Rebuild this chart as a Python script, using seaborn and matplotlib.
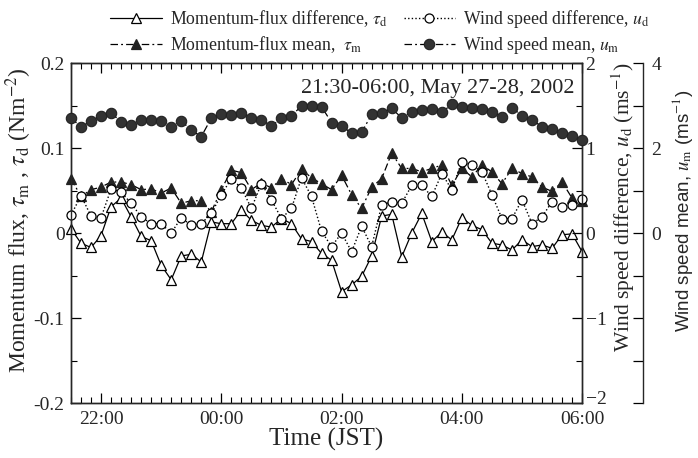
#!/usr/bin/env python3
# -*- coding: utf-8 -*-
"""
Momentum flux and wind speed (difference and mean), 21:30-06:00, May 27-28, 2002.
Saves out.png.
"""
import matplotlib
matplotlib.use('Agg')
import pandas as pd
import matplotlib.pyplot as plt
import matplotlib.dates as mdates
import matplotlib.transforms as mtransforms
from matplotlib.ticker import MultipleLocator, FixedLocator, FixedFormatter
import seaborn as sns

# 10-minute samples from 21:30 (May 27) to 06:00 (May 28)
start_time = '2002-05-27 21:30'
sample_step = '10min'

# momentum-flux difference, tau_d (N m-2)
tau_d = [0.005, -0.012, -0.017, -0.003, 0.031, 0.041, 0.019, -0.004, -0.009, -0.038,
         -0.055, -0.027, -0.025, -0.034, 0.013, 0.011, 0.011, 0.027, 0.015, 0.009,
         0.007, 0.017, 0.011, -0.007, -0.010, -0.024, -0.032, -0.069, -0.061, -0.051,
         -0.027, 0.020, 0.022, -0.028, 0.000, 0.023, -0.010, 0.001, -0.008, 0.018,
         0.009, 0.004, -0.012, -0.014, -0.020, -0.008, -0.016, -0.014, -0.018, -0.002,
         -0.001, -0.022]

# momentum-flux mean, tau_m (N m-2)
tau_m = [0.064, 0.043, 0.051, 0.054, 0.060, 0.060, 0.057, 0.051, 0.052, 0.047,
         0.053, 0.035, 0.038, 0.038, 0.025, 0.051, 0.074, 0.071, 0.051, 0.059,
         0.053, 0.064, 0.057, 0.075, 0.065, 0.058, 0.051, 0.068, 0.045, 0.029,
         0.054, 0.064, 0.094, 0.076, 0.076, 0.072, 0.076, 0.080, 0.056, 0.076,
         0.066, 0.080, 0.072, 0.058, 0.076, 0.070, 0.066, 0.054, 0.049, 0.060,
         0.041, 0.038]

# wind speed difference, u_d (m s-1)
u_d = [0.21, 0.44, 0.20, 0.18, 0.52, 0.48, 0.35, 0.19, 0.11, 0.11,
       0.00, 0.18, 0.09, 0.11, 0.23, 0.45, 0.64, 0.53, 0.29, 0.58,
       0.39, 0.17, 0.29, 0.65, 0.43, 0.02, -0.16, 0.00, -0.22, 0.08,
       -0.16, 0.33, 0.37, 0.35, 0.56, 0.56, 0.43, 0.70, 0.51, 0.84,
       0.80, 0.72, 0.45, 0.17, 0.17, 0.39, 0.11, 0.19, 0.37, 0.31,
       0.33, 0.40]

# wind speed mean, u_m (m s-1)
u_m = [2.71, 2.49, 2.64, 2.76, 2.82, 2.62, 2.54, 2.66, 2.66, 2.64,
       2.50, 2.64, 2.42, 2.27, 2.70, 2.79, 2.78, 2.82, 2.70, 2.66,
       2.52, 2.70, 2.76, 2.99, 2.99, 2.97, 2.60, 2.52, 2.35, 2.37,
       2.79, 2.82, 2.93, 2.71, 2.85, 2.89, 2.92, 2.84, 3.03, 2.97,
       2.95, 2.92, 2.84, 2.74, 2.95, 2.76, 2.66, 2.50, 2.45, 2.35,
       2.29, 2.19]

times = pd.date_range(start_time, periods=len(tau_d), freq=sample_step)

sns.set_theme(style='ticks')
plt.rcParams['font.family'] = ['Liberation Serif', 'DejaVu Serif']
plt.rcParams['mathtext.fontset'] = 'stix'
plt.rcParams['axes.linewidth'] = 1.0

fig, ax = plt.subplots(figsize=(6.98, 4.58), dpi=100)
fig.subplots_adjust(left=0.1017, right=0.834, top=0.8624, bottom=0.120)
ax2 = ax.twinx()
ax3 = ax.twinx()

dashdot = (0, (6, 2.5, 1.5, 2.5))
dotted = (0, (1, 1.6))

sns.lineplot(x=times, y=tau_d, ax=ax, color='black', linewidth=0.9,
             marker='^', markersize=6.5, markerfacecolor='white',
             markeredgecolor='black', markeredgewidth=0.9, clip_on=False)
l_td = ax.lines[-1]
sns.lineplot(x=times, y=tau_m, ax=ax, color='black', linewidth=0.9, linestyle=dashdot,
             marker='^', markersize=6.5, markerfacecolor='#222222',
             markeredgecolor='#222222', markeredgewidth=0.9, clip_on=False)
l_tm = ax.lines[-1]
sns.lineplot(x=times, y=u_d, ax=ax2, color='black', linewidth=1.0, linestyle=dotted,
             marker='o', markersize=6.5, markerfacecolor='white',
             markeredgecolor='black', markeredgewidth=0.9, clip_on=False)
l_ud = ax2.lines[-1]
sns.lineplot(x=times, y=u_m, ax=ax3, color='black', linewidth=0.9, linestyle=dashdot,
             marker='o', markersize=7.5, markerfacecolor='#333333',
             markeredgecolor='#222222', markeredgewidth=0.8, clip_on=False)
l_um = ax3.lines[-1]

# x axis
ax.set_xlim(times[0], times[-1])
ax.xaxis.set_major_locator(mdates.HourLocator(byhour=[22, 0, 2, 4, 6]))
ax.xaxis.set_major_formatter(mdates.DateFormatter('%H:%M'))
ax.xaxis.set_minor_locator(mdates.MinuteLocator(byminute=[0, 10, 20, 30, 40, 50]))
ax.set_xlabel('Time (JST)', fontsize=18, labelpad=0)

# left axis: momentum flux
ax.set_ylim(-0.2, 0.2)
ax.yaxis.set_major_locator(FixedLocator([-0.2, -0.1, 0, 0.1, 0.2]))
ax.yaxis.set_major_formatter(FixedFormatter(['-0.2', '-0.1', '0', '0.1', '0.2']))
ax.yaxis.set_minor_locator(MultipleLocator(0.05))
ax.set_ylabel(r'Momentum flux, $\tau_{\rm m}$ , $\tau_{\rm d}$ (Nm$^{-2}$)', fontsize=17)
ax.yaxis.set_label_coords(-0.072, 0.538)
ax.tick_params(which='both', direction='in', top=True, right=False,
               labelsize=14, color='black')
ax.tick_params(axis='y', pad=4.5)
ax.tick_params(axis='x', pad=6)
ax.tick_params(which='major', length=7, width=0.9)
ax.tick_params(which='minor', length=4, width=0.8)

# first right axis: wind speed difference
ax2.set_ylim(-2, 2)
ax2.yaxis.set_major_locator(FixedLocator([-2, -1, 0, 1, 2]))
ax2.yaxis.set_minor_locator(MultipleLocator(0.5))
ax2.tick_params(which='both', direction='in', labelsize=14, color='black', pad=2.5)
ax2.tick_params(which='major', length=7, width=0.9)
ax2.tick_params(which='minor', length=4, width=0.8)
ax2.set_ylabel(r'Wind speed difference, $u_{\rm d}$ (ms$^{-1}$)', fontsize=15.5)
ax2.yaxis.set_label_coords(1.053, 0.575)
# lift the "-2" label a little so it clears the "06:00" time label
low_label = ax2.yaxis.get_major_ticks()[0].label2
low_label.set_transform(low_label.get_transform() +
                        mtransforms.ScaledTranslation(0, 4 / 72, fig.dpi_scale_trans))

# second right axis: wind speed mean
ax3.set_ylim(-4, 4)
ax3.spines['right'].set_position(('axes', 1.119))
ax3.spines['right'].set_bounds(-4, 4)
for side in ['left', 'top', 'bottom']:
    ax3.spines[side].set_visible(False)
ax3.yaxis.set_major_locator(FixedLocator([-4, -3, -2, -1, 0, 1, 2, 3, 4]))
ax3.yaxis.set_major_formatter(FixedFormatter(['', '', '', '', '0', '', '2', '', '4']))
ax3.tick_params(which='major', direction='in', length=7, width=0.9,
                labelsize=14, color='black', pad=6)
ax3.set_ylabel(r'Wind speed mean, $u_{\rm m}$ (ms$^{-1}$)', fontsize=13.5,
               family=['Liberation Sans', 'DejaVu Sans'])
ax3.yaxis.set_label_coords(1.172, 0.565)

for a in (ax, ax2, ax3):
    a.grid(False)
ax2.set_xlabel('')
ax3.set_xlabel('')

ax.text(0.986, 0.926, '21:30-06:00, May 27-28, 2002', transform=ax.transAxes,
        ha='right', va='center', fontsize=16)

handles = [l_td, l_tm, l_ud, l_um]
labels = [r'Momentum-flux difference, $\tau_{\rm d}$',
          r'Momentum-flux mean,  $\tau_{\rm m}$',
          r'Wind speed difference, $u_{\rm d}$',
          r'Wind speed mean, $u_{\rm m}$']
fig.legend(handles, labels, ncol=2, loc='upper left',
           bbox_to_anchor=(0.14, 1.01), frameon=False, fontsize=12.8,
           handlelength=2.9, handletextpad=0.45, columnspacing=0.9,
           labelspacing=0.3, borderpad=0.2, numpoints=1)

fig.savefig('out.png', dpi=100)
